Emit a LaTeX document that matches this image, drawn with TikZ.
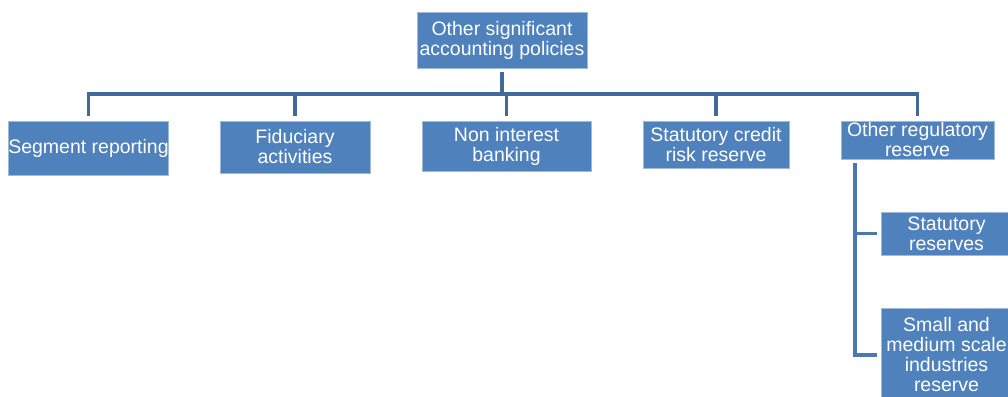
\documentclass[tikz,border=0pt]{standalone}
\usepackage{fontspec}
\setmainfont{Liberation Sans}
\definecolor{boxblue}{HTML}{4F81BD}
\definecolor{linkblue}{HTML}{3F6A9B}
\definecolor{sublinkblue}{HTML}{4A79B2}
\begin{document}
\begin{tikzpicture}[x=1pt,y=-1pt,
	policy/.style={fill=boxblue,draw=boxblue!55!white,line width=0.6pt,text=white,inner sep=0pt,align=center,font=\fontsize{19.5}{20}\selectfont},
	link/.style={draw=linkblue,line width=3.5pt},
	sublink/.style={draw=sublinkblue,line width=3.5pt}]
		\useasboundingbox (0,0) rectangle (1008,396);
		\clip (0,0) rectangle (1008,396);
		\node[policy,minimum width=170pt,minimum height=56pt] (top) at (502,40) {Other significant\\accounting policies};
		\node[policy,minimum width=159pt,minimum height=54pt] (seg) at (88.5,148) {Segment reporting};
		\node[policy,minimum width=150pt,minimum height=52pt] (fid) at (295,147) {Fiduciary\\activities};
		\node[policy,minimum width=169pt,minimum height=50pt] (non) at (506.5,146) {Non interest\\banking};
		\node[policy,minimum width=146pt,minimum height=47pt] (stat) at (716,144.5) {Statutory credit\\risk reserve};
		\node[policy,minimum width=153pt,minimum height=38pt] (oreg) at (917.5,140) {Other regulatory\\reserve};
		\node[policy,minimum width=131pt,minimum height=43pt] (sres) at (946.5,233.5) {Statutory\\reserves};
		\node[policy,minimum width=131pt,minimum height=94pt] (sme) at (946.5,355) {Small and\\medium scale\\industries\\reserve};
		% level one
		\coordinate (bar) at (502,94);
		\draw[link] ([yshift=-4pt]top.south) -- (bar);
		\draw[link] ([yshift=5pt]seg.north) |- (bar) -| ([yshift=5pt]oreg.north);
		\foreach \n in {fid,non,stat}
			\draw[link] (\n.north |- bar) -- ([yshift=5pt]\n.north);
		% reserves
		\coordinate (spine) at (855,0);
		\draw[sublink] ([yshift=-4pt]oreg.south -| spine) |- ([xshift=-4pt]sme.west);
		\draw[sublink] (spine |- sres.west) -- ([xshift=-4pt]sres.west);
	\end{tikzpicture}
\end{document}
